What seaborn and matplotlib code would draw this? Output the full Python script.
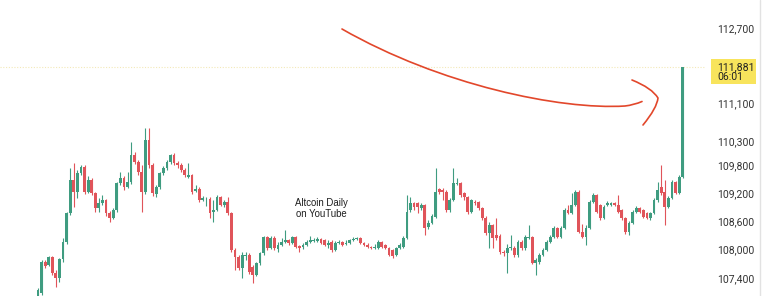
import numpy as np
import pandas as pd
import seaborn as sns
import matplotlib
matplotlib.use("Agg")
import matplotlib.pyplot as plt
from matplotlib.patches import Rectangle, PathPatch
from matplotlib.path import Path

# ---- data ----
opens = [106980, 107080, 107740, 107680, 107850, 107510, 107400, 107800, 108160, 108780,
         109480, 109220, 109630, 109750, 109220, 109480, 109200, 108880, 108990, 109050,
         108780, 108670, 108840, 109410, 109520, 109330, 109440, 110010, 109860, 109650,
         109220, 110330, 109800, 109180, 109330, 109630, 109730, 109860, 110010, 109840,
         109800, 109690, 109540, 109580, 109250, 109290, 109050, 109070, 109080, 108800,
         108840, 109120, 108950, 109010, 108780, 107990, 107850, 107610, 107870, 107890,
         107630, 107460, 107720, 107930, 108270, 108040, 108250, 108020, 108100, 108160,
         108210, 108140, 108270, 108080, 108060, 108100, 108160, 108190, 108190, 108230,
         108210, 108100, 108160, 107990, 108140, 108160, 108120, 108140, 108210, 108230,
         108250, 108140, 108100, 108060, 108040, 108040, 108160, 108100, 108040, 107990,
         107890, 108040, 108060, 108250, 108840, 108990, 108990, 108880, 108950, 108480,
         108570, 108690, 109290, 109270, 109220, 108840, 109050, 109390, 109410, 109200,
         109120, 108800, 109010, 109010, 108880, 108670, 108350, 108520, 108310, 108290,
         107950, 107930, 108040, 108040, 107890, 108160, 108040, 108250, 108270, 107720,
         107740, 107890, 107990, 108160, 108270, 108460, 108270, 108460, 108840, 108780,
         108950, 109220, 108380, 108270, 108460, 109010, 109160, 108950, 108670, 108950,
         108950, 108990, 108950, 108840, 108670, 108380, 108570, 108800, 108880, 108840,
         108780, 108670, 108780, 109050, 109330, 109220, 108910, 109100, 109440, 109200,
         109540]
closes = [107150, 107740, 107660, 107850, 107510, 107400, 107800, 108160, 108780, 109480,
          109220, 109630, 109750, 109220, 109480, 109200, 108880, 108990, 109050, 108780,
          108670, 108840, 109410, 109520, 109330, 109440, 110010, 109860, 109650, 109220,
          110330, 109800, 109200, 109330, 109630, 109730, 109860, 110010, 109840, 109800,
          109690, 109580, 109580, 109220, 109290, 109050, 109100, 109080, 108780, 108840,
          109120, 108950, 109010, 108780, 107990, 107850, 107610, 107890, 107890, 107530,
          107460, 107720, 107930, 108270, 108040, 108250, 108040, 108100, 108160, 108210,
          108140, 108270, 108060, 108040, 108100, 108160, 108210, 108210, 108230, 108140,
          108100, 108140, 107990, 108140, 108160, 108100, 108140, 108210, 108230, 108250,
          108140, 108100, 108060, 108040, 108060, 108160, 108060, 108040, 107890, 107870,
          108040, 108100, 108250, 108800, 108990, 108910, 108910, 108950, 108460, 108570,
          108720, 109220, 109220, 109220, 108840, 109050, 109410, 109410, 109160, 109120,
          108800, 109050, 108990, 108880, 108670, 108350, 108520, 108250, 108250, 107950,
          107930, 108040, 108060, 107890, 108160, 108040, 108270, 108270, 107720, 107780,
          107890, 107990, 108160, 108270, 108460, 108270, 108460, 108840, 108780, 108950,
          109220, 108380, 108270, 108460, 109010, 109160, 108800, 108670, 108910, 108990,
          108990, 108950, 108800, 108670, 108380, 108570, 108800, 108880, 108800, 108690,
          108670, 108780, 109050, 109270, 109200, 108910, 109100, 109440, 109200, 109540,
          111881]
highs = [107190, 107780, 107780, 107870, 107870, 107570, 107820, 108250, 108800, 109730,
         109840, 109690, 109800, 109800, 109560, 109520, 109220, 109100, 109160, 109080,
         108820, 108880, 109440, 109650, 109560, 109650, 110280, 110070, 109900, 109800,
         110580, 110580, 109840, 109370, 109650, 109780, 109900, 110030, 110050, 109880,
         109840, 109730, 109840, 109610, 109370, 109330, 109140, 109120, 109120, 109050,
         109160, 109140, 109050, 109120, 108800, 108040, 107890, 107950, 107950, 107930,
         107680, 107740, 107950, 108290, 108290, 108290, 108290, 108160, 108250, 108420,
         108230, 108290, 108290, 108100, 108140, 108210, 108290, 108250, 108270, 108250,
         108230, 108210, 108210, 108190, 108210, 108190, 108210, 108230, 108270, 108270,
         108270, 108160, 108140, 108080, 108120, 108210, 108190, 108120, 108060, 108020,
         108060, 108140, 108290, 109160, 109120, 109010, 109010, 108990, 108970, 108630,
         108760, 109730, 109310, 109310, 109270, 109100, 109730, 109520, 109440, 109220,
         109140, 109080, 109050, 109030, 108910, 108720, 108590, 108550, 108670, 108330,
         107990, 108120, 108310, 108080, 108210, 108210, 108310, 108520, 108290, 107820,
         107930, 108040, 108210, 108310, 108500, 108480, 108500, 108880, 108950, 109200,
         109270, 109270, 108550, 108520, 109050, 109200, 109180, 108970, 108950, 109030,
         109010, 109010, 109160, 108860, 108690, 108610, 108840, 108930, 108910, 108860,
         108800, 108800, 109100, 109440, 109800, 109480, 109140, 109480, 109460, 109580,
         111881]
lows = [106930, 107040, 107610, 107660, 107460, 107210, 107320, 107740, 108120, 108740,
        108910, 109100, 109580, 109180, 109200, 109160, 108800, 108800, 108950, 108720,
        108590, 108650, 108800, 109370, 109270, 109310, 109390, 109820, 109580, 108800,
        109180, 109730, 109140, 109120, 109290, 109580, 109690, 109820, 109800, 109730,
        109650, 109540, 109520, 109180, 109220, 109010, 109030, 108930, 108670, 108590,
        108820, 108930, 108910, 108740, 107950, 107570, 107570, 107400, 107780, 107490,
        107290, 107440, 107680, 107890, 107990, 108020, 107990, 107950, 108080, 108140,
        108100, 108120, 108040, 107950, 108020, 108080, 108140, 108160, 108160, 108120,
        108080, 108040, 107950, 107970, 108120, 108080, 108100, 108120, 108190, 108210,
        108120, 108080, 108040, 108020, 108020, 108020, 108040, 108020, 107870, 107820,
        107870, 108020, 108040, 108230, 108800, 108840, 108780, 108840, 108310, 108440,
        108550, 108670, 109180, 109050, 108800, 108800, 109030, 109370, 109120, 109050,
        108760, 108780, 108950, 108840, 108630, 108310, 108040, 108040, 108210, 107910,
        107870, 107510, 107990, 107850, 107850, 107990, 107990, 108230, 107700, 107460,
        107700, 107870, 107970, 108140, 108250, 108250, 108250, 108440, 108760, 108760,
        108930, 108350, 108250, 108100, 108440, 108990, 108780, 108630, 108650, 108930,
        108930, 108930, 108780, 108630, 108330, 108310, 108550, 108780, 108780, 108670,
        108650, 108630, 108760, 109010, 109160, 108520, 108880, 109080, 109180, 109180,
        109520]
tick_prices = [112700, 111100, 110300, 109800, 109200, 108600, 108000, 107400]
last_price = 111881
countdown = "06:01"
watermark = "Altcoin Daily\non YouTube"

df = pd.DataFrame({"open": opens, "high": highs, "low": lows, "close": closes})
df["idx"] = np.arange(len(df))
df["up"] = df["close"] >= df["open"]

UP = "#3f9c80"
DOWN = "#e0545a"

sns.set_theme(style="white")
W, H = 766, 296
fig = plt.figure(figsize=(W / 100, H / 100), dpi=100)
ax = fig.add_axes([0, 0, 706 / W, 1])

colors = np.where(df["up"], UP, DOWN)
ax.vlines(df["idx"], df["low"], df["high"], colors=colors, linewidth=0.8, zorder=2)
body_lo = np.minimum(df["open"], df["close"])
body_h = np.maximum(np.abs(df["close"] - df["open"]), 8)
ax.bar(df["idx"], body_h, bottom=body_lo, width=0.78, color=colors, linewidth=0, zorder=3)

ax.set_xlim(-10.6, 186.5)
ax.set_ylim(107018, 113294)

# last price dotted line
ax.axhline(last_price, color="#f3e9b8", linewidth=0.8, linestyle=(0, (1, 1.5)), zorder=1)

ax.yaxis.tick_right()
ax.set_yticks(tick_prices)
ax.set_yticklabels([f"{v:,}" for v in tick_prices])
ax.tick_params(axis="y", length=0, pad=8, labelsize=7.5, labelcolor="#333333")
for lab in ax.get_yticklabels():
    lab.set_fontfamily("Roboto")
ax.set_xticks([])
for s in ax.spines.values():
    s.set_visible(False)

def fx(px):
    return px / W
def fy(py):
    return 1 - py / H

# price label box
fig.patches.append(Rectangle((fx(711), fy(84)), (756 - 711) / W, (84 - 59) / H,
                             transform=fig.transFigure, facecolor="#f8e45c",
                             edgecolor="none", zorder=5))
fig.text(fx(717), fy(67), f"{last_price:,}", ha="left", va="center", fontsize=7.6,
         family="Roboto", color="#222222", zorder=6)
fig.text(fx(717), fy(77), countdown, ha="left", va="center", fontsize=7.6,
         family="Roboto", color="#222222", zorder=6)

# right border line
fig.add_artist(plt.Line2D([fx(760), fx(760)], [0, 1], transform=fig.transFigure,
                          color="#e2e2e2", linewidth=1))

# watermark text
fig.text(fx(321), fy(208.5), watermark, ha="center", va="center", fontsize=6.9,
         family="Liberation Sans", color="#1e1e1e", linespacing=1.2)

# hand-drawn red arrow (smooth curves)
def P(px, py):
    return (fx(px), fy(py))

arc = Path([P(342, 29), P(440, 85), P(560, 110), P(625, 106),
            P(634, 105), P(642, 101.5)],
           [Path.MOVETO, Path.CURVE4, Path.CURVE4, Path.CURVE4,
            Path.CURVE3, Path.CURVE3])
chev = Path([P(632, 80), P(652, 88), P(658, 98), P(657, 108), P(643, 125)],
            [Path.MOVETO, Path.CURVE3, Path.CURVE3, Path.CURVE3, Path.CURVE3])
for pth in (arc, chev):
    fig.patches.append(PathPatch(pth, transform=fig.transFigure, facecolor="none",
                                 edgecolor="#e2472b", linewidth=1.2,
                                 capstyle="round", joinstyle="round", zorder=7))

fig.savefig("out.png", dpi=100, facecolor="white")
